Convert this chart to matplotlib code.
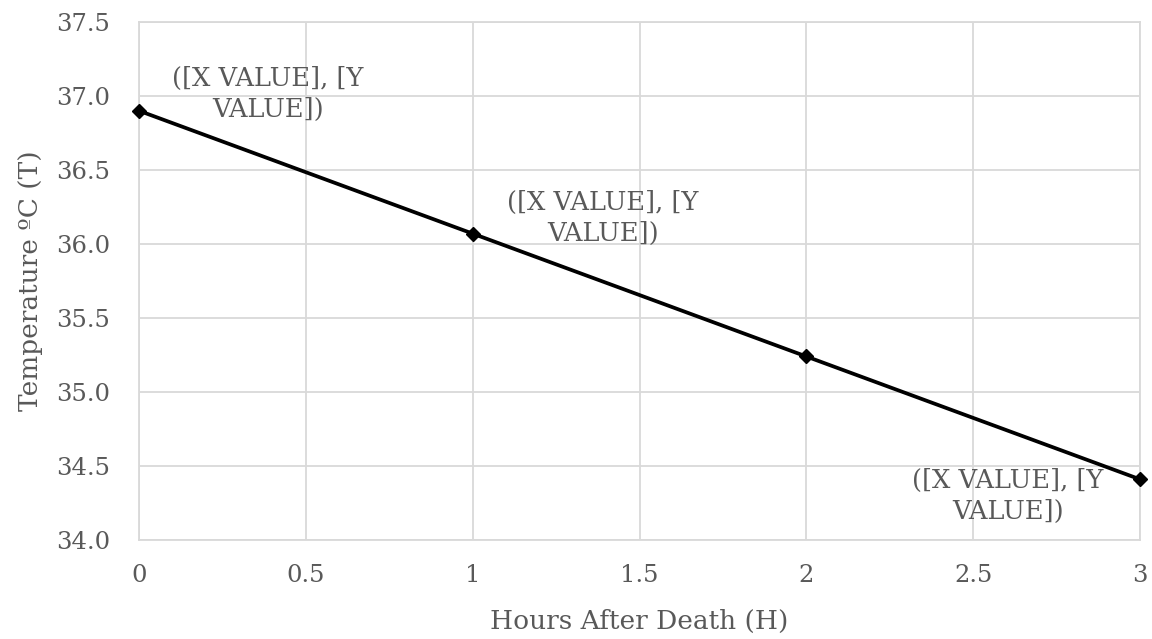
import matplotlib
matplotlib.use("Agg")
import matplotlib.pyplot as plt
from matplotlib.ticker import FormatStrFormatter, FuncFormatter

# data
hours = [0, 1, 2, 3]
temps = [36.9, 36.07, 35.24, 34.41]
x_ticks = [0, 0.5, 1, 1.5, 2, 2.5, 3]
y_ticks = [34.0, 34.5, 35.0, 35.5, 36.0, 36.5, 37.0, 37.5]
point_label = "([X VALUE], [Y\nVALUE])"
# which points carry a data label, and its offset in pixels
labelled = [0, 1, 3]
label_offsets = [(129, 17), (130, 16), (-132, -17)]

gray = "#595959"
grid = "#d9d9d9"

plt.rcParams["font.family"] = ["DejaVu Serif"]

fig = plt.figure(figsize=(11.52, 6.39), dpi=100)
ax = fig.add_axes([0.1207, 0.1549, 0.8689, 0.8107])

ax.plot(hours, temps, color="black", lw=2.7, marker="D", markersize=7.5, zorder=3, clip_on=False)

for i, off in zip(labelled, label_offsets):
    ax.annotate(point_label, (hours[i], temps[i]), xytext=off, textcoords="offset pixels",
                ha="center", va="center", fontsize=18.5, color=gray, linespacing=1.3)

ax.set_xlim(0, 3)
ax.set_ylim(34.0, 37.5)
ax.set_xticks(x_ticks)
ax.set_yticks(y_ticks)
ax.xaxis.set_major_formatter(FuncFormatter(lambda v, p: f"{v:g}"))
ax.yaxis.set_major_formatter(FormatStrFormatter("%.1f"))
ax.grid(True, color=grid, lw=1.3)
ax.set_axisbelow(True)
for s in ax.spines.values():
    s.set_color(grid)
    s.set_linewidth(1.3)
ax.tick_params(length=0, labelsize=17.5, labelcolor=gray)
ax.tick_params(axis="y", pad=21)
ax.tick_params(axis="x", pad=17)

ax.set_xlabel("Hours After Death (H)", fontsize=19, color=gray, labelpad=16)
ax.set_ylabel("Temperature ºC (T)", fontsize=19, color=gray, labelpad=9)

fig.savefig("out.png", dpi=100)
